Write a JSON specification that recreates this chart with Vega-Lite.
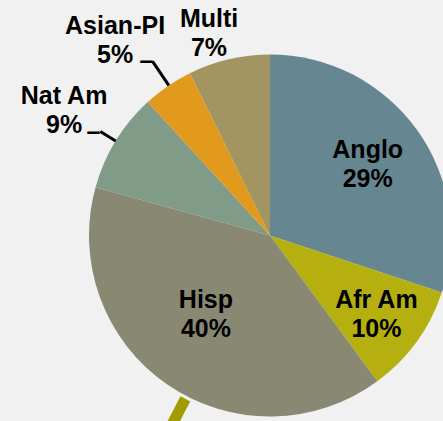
{
  "$schema": "https://vega.github.io/schema/vega-lite/v6.json",
  "width": 443,
  "height": 421,
  "autosize": {"type": "none"},
  "padding": 0,
  "background": "#F1F1F1",
  "view": {"stroke": null},
  "data": {
    "values": [
      {"cat": "Anglo", "value": 30.1, "label": "Anglo\n29%", "ord": 1},
      {"cat": "Afr Am", "value": 9.8, "label": "Afr Am\n10%", "ord": 2},
      {"cat": "Hisp", "value": 39.4, "label": "Hisp\n40%", "ord": 3},
      {"cat": "Nat Am", "value": 8.9, "label": "Nat Am\n9%", "ord": 4},
      {"cat": "Asian-PI", "value": 4.5, "label": "Asian-PI\n5%", "ord": 5},
      {"cat": "Multi", "value": 7.3, "label": "Multi\n7%", "ord": 6}
    ]
  },
  "layer": [
    {
      "mark": {"type": "arc", "x": 270, "y": 235.5, "radius": 181},
      "encoding": {
        "theta": {"field": "value", "type": "quantitative", "stack": true},
        "order": {"field": "ord", "type": "quantitative"},
        "color": {
          "field": "cat",
          "type": "nominal",
          "scale": {
            "domain": ["Anglo", "Afr Am", "Hisp", "Nat Am", "Asian-PI", "Multi"],
            "range": ["#668791", "#B5AF10", "#898873", "#809B87", "#E29A1D", "#A39562"]
          },
          "legend": null
        }
      }
    },
    {
      "mark": {"type": "arc", "x": 270, "y": 235.5, "radius": 199, "radius2": 181, "padAngle": 3, "fillOpacity": 0, "stroke": "#000000", "strokeWidth": 3},
      "encoding": {
        "theta": {"field": "value", "type": "quantitative", "stack": true},
        "order": {"field": "ord", "type": "quantitative"},
        "strokeOpacity": {"condition": {"test": "datum.cat === 'Nat Am'", "value": 1}, "value": 0}
      }
    },
    {
      "mark": {"type": "arc", "x": 270, "y": 235.5, "radius": 210, "radius2": 181, "padAngle": 3, "thetaOffset": 0.0066, "fillOpacity": 0, "stroke": "#000000", "strokeWidth": 3},
      "encoding": {
        "theta": {"field": "value", "type": "quantitative", "stack": true},
        "order": {"field": "ord", "type": "quantitative"},
        "strokeOpacity": {"condition": {"test": "datum.cat === 'Asian-PI'", "value": 1}, "value": 0}
      }
    },
    {
      "mark": {"type": "arc", "x": 270, "y": 235.5, "radius": 245, "radius2": 184, "padAngle": 3, "thetaOffset": -0.1250, "fillOpacity": 0, "stroke": "#A19B00", "strokeWidth": 11},
      "encoding": {
        "theta": {"field": "value", "type": "quantitative", "stack": true},
        "order": {"field": "ord", "type": "quantitative"},
        "strokeOpacity": {"condition": {"test": "datum.cat === 'Hisp'", "value": 1}, "value": 0}
      }
    },
    {
      "mark": {"type": "text", "x": 270, "y": 235.5, "radius": 120.5, "dy": -14.5, "font": "Liberation Sans", "fontWeight": "bold", "fontSize": 25, "lineHeight": 29, "lineBreak": "\n", "fill": "#000000"},
      "encoding": {
        "theta": {"field": "value", "type": "quantitative", "stack": true},
        "order": {"field": "ord", "type": "quantitative"},
        "text": {"condition": {"test": "datum.cat === 'Anglo'", "field": "label", "type": "nominal"}, "value": ""}
      }
    },
    {
      "mark": {"type": "text", "x": 270, "y": 235.5, "radius": 132.8, "dx": -1, "dy": -13.5, "font": "Liberation Sans", "fontWeight": "bold", "fontSize": 25, "lineHeight": 29, "lineBreak": "\n", "fill": "#000000"},
      "encoding": {
        "theta": {"field": "value", "type": "quantitative", "stack": true},
        "order": {"field": "ord", "type": "quantitative"},
        "text": {"condition": {"test": "datum.cat === 'Afr Am'", "field": "label", "type": "nominal"}, "value": ""}
      }
    },
    {
      "mark": {"type": "text", "x": 270, "y": 235.5, "radius": 101.6, "dx": -6.4, "dy": -19, "font": "Liberation Sans", "fontWeight": "bold", "fontSize": 25, "lineHeight": 29, "lineBreak": "\n", "fill": "#000000"},
      "encoding": {
        "theta": {"field": "value", "type": "quantitative", "stack": true},
        "order": {"field": "ord", "type": "quantitative"},
        "text": {"condition": {"test": "datum.cat === 'Hisp'", "field": "label", "type": "nominal"}, "value": ""}
      }
    },
    {
      "mark": {"type": "text", "x": 270, "y": 235.5, "radius": 240.9, "dx": -0.5, "dy": -13.5, "font": "Liberation Sans", "fontWeight": "bold", "fontSize": 25, "lineHeight": 29, "lineBreak": "\n", "fill": "#000000"},
      "encoding": {
        "theta": {"field": "value", "type": "quantitative", "stack": true},
        "order": {"field": "ord", "type": "quantitative"},
        "text": {"condition": {"test": "datum.cat === 'Nat Am'", "field": "label", "type": "nominal"}, "value": ""}
      }
    },
    {
      "mark": {"type": "text", "x": 270, "y": 235.5, "radius": 248.7, "dx": -14.5, "dy": -4.5, "font": "Liberation Sans", "fontWeight": "bold", "fontSize": 25, "lineHeight": 29, "lineBreak": "\n", "fill": "#000000"},
      "encoding": {
        "theta": {"field": "value", "type": "quantitative", "stack": true},
        "order": {"field": "ord", "type": "quantitative"},
        "text": {"condition": {"test": "datum.cat === 'Asian-PI'", "field": "label", "type": "nominal"}, "value": ""}
      }
    },
    {
      "mark": {"type": "text", "x": 270, "y": 235.5, "radius": 211, "dx": -13, "dy": -11.5, "font": "Liberation Sans", "fontWeight": "bold", "fontSize": 25, "lineHeight": 29, "lineBreak": "\n", "fill": "#000000"},
      "encoding": {
        "theta": {"field": "value", "type": "quantitative", "stack": true},
        "order": {"field": "ord", "type": "quantitative"},
        "text": {"condition": {"test": "datum.cat === 'Multi'", "field": "label", "type": "nominal"}, "value": ""}
      }
    },
    {
      "mark": {"type": "text", "x": 270, "y": 235.5, "radius": 204.6, "dx": -2, "dy": 3.4, "font": "Liberation Sans", "fontWeight": "bold", "fontSize": 25, "fill": "#000000"},
      "encoding": {
        "theta": {"field": "value", "type": "quantitative", "stack": true},
        "order": {"field": "ord", "type": "quantitative"},
        "text": {"condition": {"test": "datum.cat === 'Nat Am'", "value": "–"}, "value": ""}
      }
    },
    {
      "mark": {"type": "text", "x": 270, "y": 235.5, "radius": 213.8, "dx": -2.7, "dy": 2, "font": "Liberation Sans", "fontWeight": "bold", "fontSize": 25, "fill": "#000000"},
      "encoding": {
        "theta": {"field": "value", "type": "quantitative", "stack": true},
        "order": {"field": "ord", "type": "quantitative"},
        "text": {"condition": {"test": "datum.cat === 'Asian-PI'", "value": "–"}, "value": ""}
      }
    }
  ]
}
